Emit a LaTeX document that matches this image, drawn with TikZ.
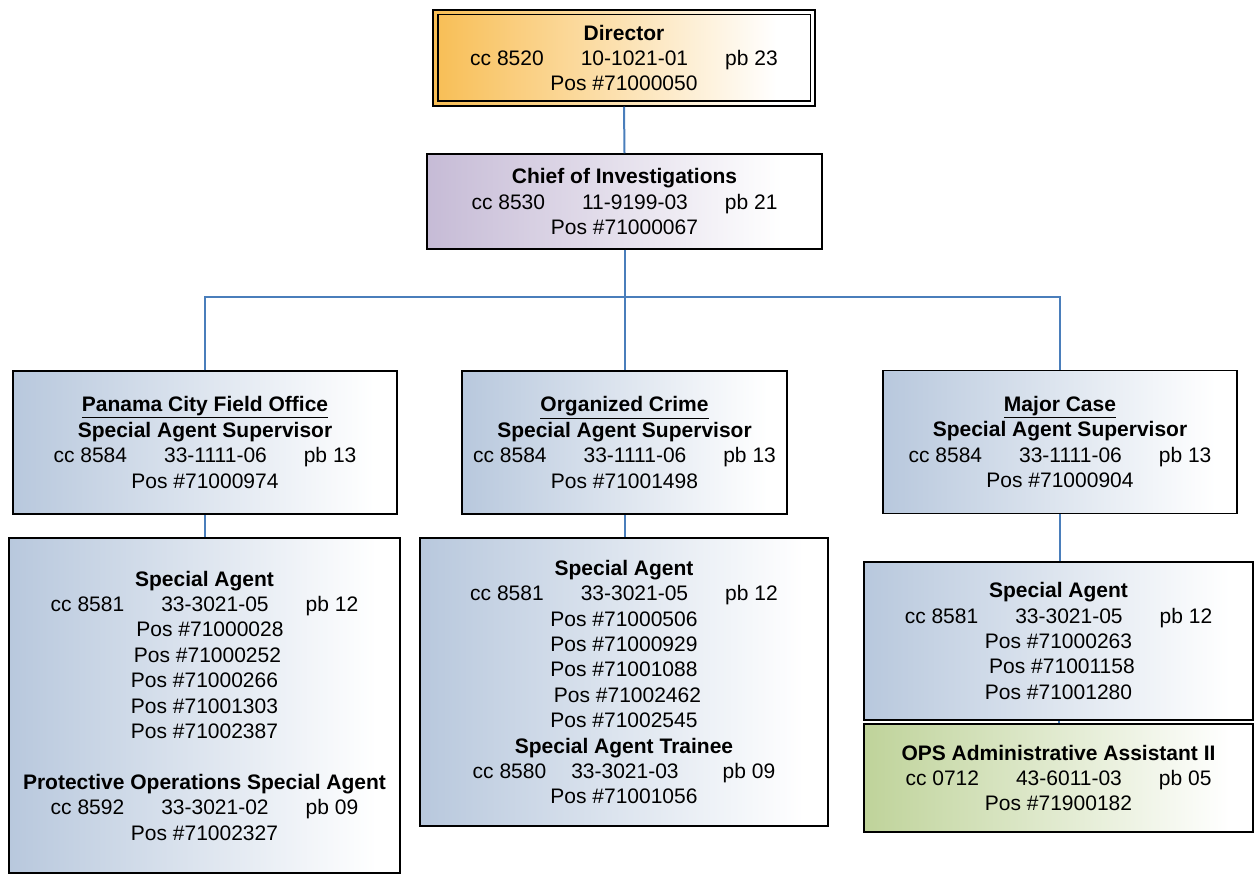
\documentclass[tikz,border=0pt]{standalone}
\usepackage{fontspec}
\setmainfont{Liberation Sans}
\definecolor{sablue}{HTML}{B8C8DD}
\definecolor{dirorange}{HTML}{F8BE55}
\definecolor{chieflilac}{HTML}{C6BBD6}
\definecolor{opsgreen}{HTML}{BFD39A}
\definecolor{linkblue}{HTML}{4A7EBB}
% horizontal fades: full colour at the left edge, white near the right edge
\pgfdeclarehorizontalshading{blueshade}{100bp}{color(0bp)=(sablue); color(25bp)=(sablue); color(72bp)=(white); color(100bp)=(white)}
\pgfdeclarehorizontalshading{orangeshade}{100bp}{color(0bp)=(dirorange); color(25bp)=(dirorange); color(70bp)=(white); color(100bp)=(white)}
\pgfdeclarehorizontalshading{lilacshade}{100bp}{color(0bp)=(chieflilac); color(25bp)=(chieflilac); color(70bp)=(white); color(100bp)=(white)}
\pgfdeclarehorizontalshading{greenshade}{100bp}{color(0bp)=(opsgreen); color(25bp)=(opsgreen); color(72bp)=(white); color(100bp)=(white)}
\begin{document}
\begin{tikzpicture}[x=1pt,y=-1pt,
  box/.style={draw=black,line width=1.5pt,inner sep=0pt,align=center,
    font=\fontsize{21}{25.4}\selectfont,shade},
  bluebox/.style={box,shading=blueshade},
  link/.style={draw=linkblue,line width=2pt}]
\useasboundingbox (0,0) rectangle (1257,874);

% top of the chart
\node[box,shading=orangeshade,minimum width=382pt,minimum height=96pt] (dir) at (624,58)
  {\textbf{Director}\\cc 8520\hspace{37pt}10-1021-01\hspace{37pt}pb 23\\Pos \#71000050};
\draw[line width=1.5pt] ([xshift=5.5pt,yshift=-5.5pt]dir.north west) rectangle ([xshift=-5.5pt,yshift=5.5pt]dir.south east);

\node[box,shading=lilacshade,minimum width=395pt,minimum height=95pt] (chief) at (624.5,201.5)
  {\textbf{Chief of Investigations}\\cc 8530\hspace{37pt}11-9199-03\hspace{37pt}pb 21\\Pos \#71000067};

% section supervisors
\node[bluebox,minimum width=384pt,minimum height=143pt] (pcfo) at (205,442.5)
  {\textbf{\underline{Panama City Field Office}}\\\textbf{Special Agent Supervisor}\\cc 8584\hspace{37pt}33-1111-06\hspace{37pt}pb 13\\Pos \#71000974};
\node[bluebox,minimum width=325pt,minimum height=143pt] (oc) at (624.5,442.5)
  {\textbf{\underline{Organized Crime}}\\\textbf{Special Agent Supervisor}\\cc 8584\hspace{37pt}33-1111-06\hspace{37pt}pb 13\\Pos \#71001498};
\node[bluebox,minimum width=354pt,minimum height=143pt] (mc) at (1060,442)
  {\textbf{\underline{Major Case}}\\\textbf{Special Agent Supervisor}\\cc 8584\hspace{37pt}33-1111-06\hspace{37pt}pb 13\\Pos \#71000904};

% agents
\node[bluebox,minimum width=391pt,minimum height=335pt] (pcsa) at (204.5,705.5)
  {\textbf{Special Agent}\\cc 8581\hspace{37pt}33-3021-05\hspace{37pt}pb 12\\
   \hspace*{11pt}Pos \#71000028\\\hspace*{6pt}Pos \#71000252\\Pos \#71000266\\Pos \#71001303\\Pos \#71002387\\[25.4pt]
   \textbf{Protective Operations Special Agent}\\cc 8592\hspace{37pt}33-3021-02\hspace{37pt}pb 09\\Pos \#71002327};
\node[bluebox,minimum width=408pt,minimum height=288pt] (ocsa) at (624,682)
  {\textbf{Special Agent}\\cc 8581\hspace{37pt}33-3021-05\hspace{37pt}pb 12\\
   Pos \#71000506\\Pos \#71000929\\Pos \#71001088\\\hspace*{7pt}Pos \#71002462\\Pos \#71002545\\
   \textbf{Special Agent Trainee}\\cc 8580\hspace{25pt}33-3021-03\hspace{44pt}pb 09\\Pos \#71001056};
\node[bluebox,minimum width=389pt,minimum height=158pt] (mcsa) at (1058.5,641)
  {\textbf{Special Agent}\\cc 8581\hspace{37pt}33-3021-05\hspace{37pt}pb 12\\
   Pos \#71000263\\\hspace*{7pt}Pos \#71001158\\Pos \#71001280};
\node[box,shading=greenshade,minimum width=389pt,minimum height=108pt] (ops) at (1058.5,778)
  {\textbf{OPS Administrative Assistant II}\\cc 0712\hspace{37pt}43-6011-03\hspace{37pt}pb 05\\Pos \#71900182};

% reporting lines
\coordinate (bus) at (624.5,297.5);
\draw[link] (dir.south) -- (chief.north);
\draw[link] (chief.south) -- (bus);
\draw[link] (pcfo.north) |- (bus) -| (mc.north);
\draw[link] (bus) -- (oc.north);
\draw[link] (pcfo.south) -- (pcfo.south |- pcsa.north);
\draw[link] (oc.south) -- (oc.south |- ocsa.north);
\draw[link] (mc.south) -- (mc.south |- mcsa.north);
\draw[link] (mcsa.south) -- (ops.north);
\end{tikzpicture}
\end{document}
